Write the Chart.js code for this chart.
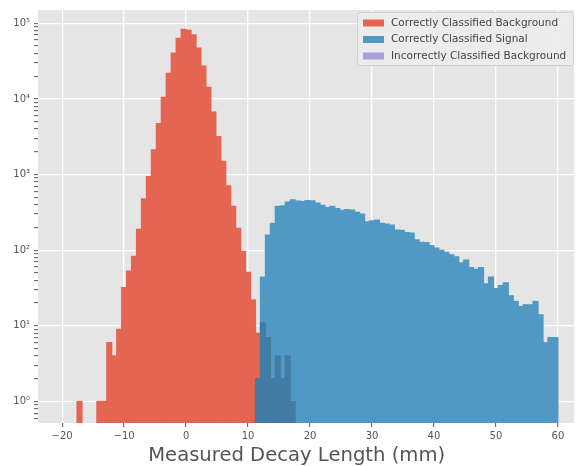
<!DOCTYPE html>
<html>
<head>
<meta charset="utf-8">
<script src="https://cdn.jsdelivr.net/npm/chart.js@4.4.1/dist/chart.umd.min.js"></script>
<style>
  body { margin: 0; background: #fff; }
  #wrap { width: 576px; height: 466px; }
</style>
</head>
<body>
<div id="wrap"><canvas id="myChart" width="576" height="466"></canvas></div>
<script>
// all three histograms share 0.8 mm bins
const binWidth = 0.8

const bgStart = -17.6
const bgCounts = [1, 0, 0, 0, 1, 1, 6, 4, 9, 32, 53, 83, 189, 478, 942, 2130, 4740, 10500, 21800, 40500,
    63500, 83000, 81000, 70300, 47000, 27200, 14200, 6710, 3180, 1500, 711, 379, 194, 97, 51, 22, 8]

const sigStart = 12.0
const sigCounts = [44, 159, 226, 379, 385, 432, 463, 445, 440, 452, 450, 420, 391, 365, 379, 354, 336, 344, 340, 318,
    300, 238, 245, 250, 226, 221, 215, 185, 183, 171, 168, 137, 127, 126, 115, 107, 100, 94, 87, 82,
    68, 74, 59, 56, 59, 36, 44, 31, 34, 37, 25, 21, 18, 19, 19, 21, 14, 6, 7, 7]

const wrongStart = 11.2
const wrongCounts = [2, 11, 7, 2, 4, 2, 4, 1]

const seriesNames = ['Correctly Classified Background', 'Correctly Classified Signal', 'Incorrectly Classified Background']
const barColors = ['rgb(227,101,82)', 'rgb(80,153,197)', 'rgb(66,123,164)']
const legendColors = ['rgb(227,101,82)', 'rgb(80,153,197)', 'rgb(168,160,216)']

const xTicks = [-20, -10, 0, 10, 20, 30, 40, 50, 60]
const yTicks = [1, 10, 100, 1000, 10000, 100000]
const yTickLabels = ['10⁰', '10¹', '10²', '10³', '10⁴', '10⁵']

function toBins(start, counts) {
    return counts.map((c, i) => ({
        x: Math.round((start + (i + 0.5) * binWidth) * 100) / 100,
        y: c > 0 ? c : null
    }))
}

// minor log ticks 2..9 x 10^k between the majors
function logTicks(min, max) {
    let out = []
    for (let k = -1; k <= 5; k++) {
        for (let m = 1; m <= 9; m++) {
            const v = m === 1 ? Math.pow(10, k) : m * Math.pow(10, k)
            if (v >= min && v <= max) out.push({value: v})
        }
    }
    return out
}

const plotBg = {
    id: 'plotBg',
    beforeDraw(chart) {
        const {ctx, chartArea: a} = chart
        ctx.save()
        ctx.fillStyle = '#E5E5E5'
        ctx.fillRect(a.left, a.top, a.right - a.left, a.bottom - a.top)
        ctx.restore()
    }
}

const legendBox = {
    id: 'legendBox',
    afterDraw(chart) {
        const {ctx, chartArea: a} = chart
        const w = 216, h = 53
        const x = a.right - w - 1, y = a.top + 2
        ctx.save()
        ctx.fillStyle = 'rgba(236,236,236,0.95)'
        ctx.strokeStyle = '#d0d0d0'
        ctx.lineWidth = 1
        ctx.beginPath()
        ctx.roundRect(x + 0.5, y + 0.5, w, h, 3)
        ctx.fill()
        ctx.stroke()
        ctx.font = '10.5px "DejaVu Sans"'
        ctx.textBaseline = 'middle'
        seriesNames.forEach((name, i) => {
            const cy = y + 11 + i * 16.5
            ctx.fillStyle = legendColors[i]
            ctx.fillRect(x + 6, cy - 3.5, 21, 7)
            ctx.fillStyle = '#444'
            ctx.fillText(name, x + 34, cy)
        })
        ctx.restore()
    }
}

const font = {family: 'DejaVu Sans', size: 10}

const chart = new Chart(document.getElementById('myChart'), {
    type: 'bar',
    data: {
        datasets: [
            {label: seriesNames[0], data: toBins(bgStart, bgCounts), backgroundColor: barColors[0], order: 3},
            {label: seriesNames[1], data: toBins(sigStart, sigCounts), backgroundColor: barColors[1], order: 2},
            {label: seriesNames[2], data: toBins(wrongStart, wrongCounts), backgroundColor: barColors[2], order: 1},
        ]
    },
    options: {
        responsive: false,
        animation: false,
        devicePixelRatio: 1,
        layout: {padding: {top: 3, right: 2, left: 0, bottom: 0}},
        datasets: {
            bar: {grouped: false, barPercentage: 1, categoryPercentage: 1, borderWidth: 0, inflateAmount: 0.6}
        },
        plugins: {
            legend: {display: false},
            tooltip: {enabled: false}
        },
        scales: {
            x: {
                type: 'linear',
                offset: false,
                min: -23.9,
                max: 62.6,
                afterBuildTicks: scale => { scale.ticks = xTicks.map(v => ({value: v})) },
                afterFit: scale => { scale.height = 43 },
                ticks: {
                    autoSkip: false, maxRotation: 0, padding: 3, color: '#555', font: font,
                    callback: v => String(v).replace('-', '\u2212')
                },
                grid: {offset: false, color: '#fff', lineWidth: 1.3, tickColor: '#555', tickLength: 4, tickWidth: 1},
                border: {display: false},
                title: {
                    display: true,
                    // trailing spaces nudge the centred label a bit to the left, like the original
                    text: 'Measured Decay Length (mm)\u00a0\u00a0\u00a0',
                    color: '#555',
                    font: {family: 'DejaVu Sans', size: 19.6, lineHeight: 1.0},
                    padding: {top: 0, bottom: 0}
                }
            },
            y: {
                type: 'logarithmic',
                min: 0.52,
                max: 150000,
                afterBuildTicks: scale => { scale.ticks = logTicks(scale.min, scale.max) },
                afterFit: scale => { scale.width = 38 },
                ticks: {
                    autoSkip: false, padding: 4, color: '#555', font: font,
                    callback: v => {
                        const i = yTicks.indexOf(v)
                        return i >= 0 ? yTickLabels[i] : ''
                    }
                },
                grid: {
                    color: ctx => (ctx.tick && yTicks.includes(ctx.tick.value)) ? '#fff' : 'rgba(0,0,0,0)',
                    lineWidth: 1.3, tickColor: '#555', tickLength: 4, tickWidth: 1
                },
                border: {display: false}
            }
        }
    },
    plugins: [plotBg, legendBox]
})
</script>
</body>
</html>
